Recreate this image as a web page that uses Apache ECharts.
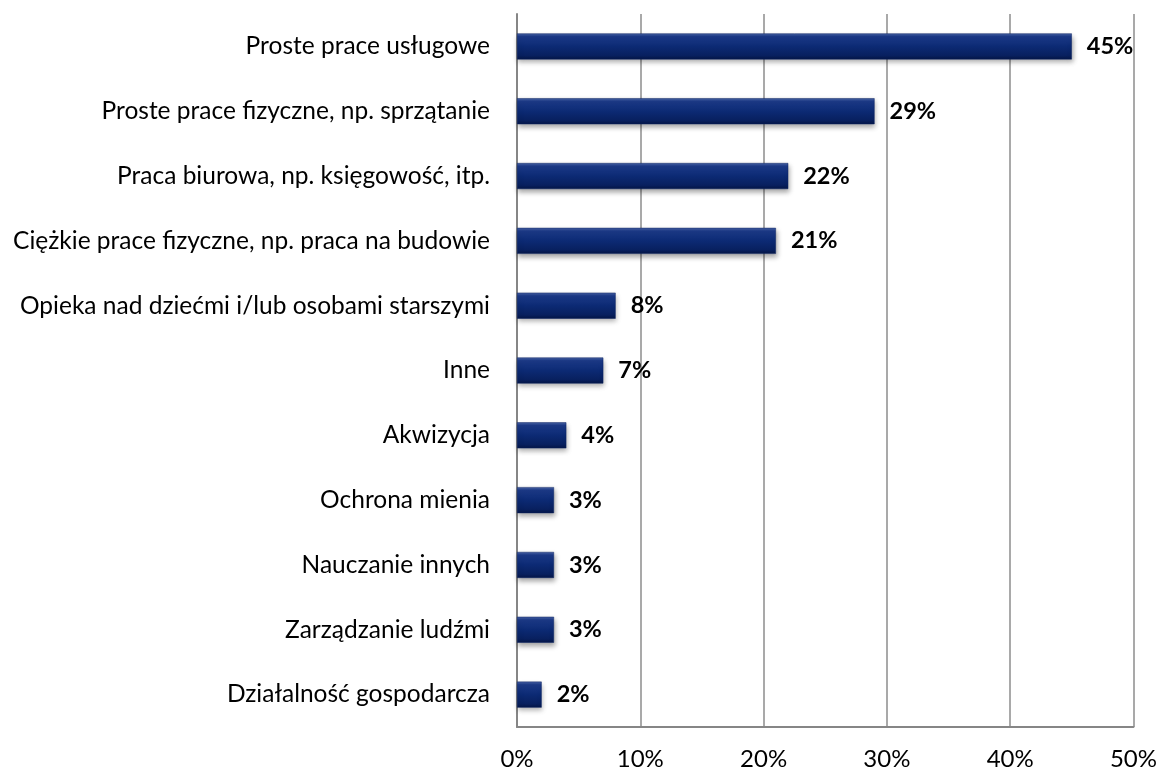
<!DOCTYPE html>
<html>
<head>
<meta charset="utf-8">
<script src="https://cdn.jsdelivr.net/npm/echarts@6/dist/echarts.min.js"></script>
<style>
  html, body { margin: 0; padding: 0; background: #fff; }
  #chart { width: 1160px; height: 771px; }
</style>
</head>
<body>
<div id="chart"></div>
<script>
// Categories listed bottom-to-top (ECharts category y axis starts at the bottom)
const categories = [
  'Działalność gospodarcza',
  'Zarządzanie ludźmi',
  'Nauczanie innych',
  'Ochrona mienia',
  'Akwizycja',
  'Inne',
  'Opieka nad dziećmi i/lub osobami starszymi',
  'Ciężkie prace fizyczne, np. praca na budowie',
  'Praca biurowa, np. księgowość, itp.',
  'Proste prace fizyczne, np. sprzątanie',
  'Proste prace usługowe'
];
const values = [2, 3, 3, 3, 4, 7, 8, 21, 22, 29, 45];
const xTicks = [0, 10, 20, 30, 40, 50];

const FONT = 'Lato, "Open Sans", sans-serif';

const chart = echarts.init(document.getElementById('chart'));
chart.setOption({
  animation: false,
  backgroundColor: '#ffffff',
  grid: { left: 517, right: 26, top: 14, bottom: 43, containLabel: false },
  xAxis: {
    type: 'value',
    min: xTicks[0],
    max: xTicks[xTicks.length - 1],
    interval: 10,
    axisLine: { show: true, lineStyle: { color: '#868686', width: 2 } },
    axisTick: { show: false },
    splitLine: { show: true, lineStyle: { color: '#8c8c8c', width: 1.5 } },
    axisLabel: {
      color: '#000', fontFamily: FONT, fontSize: 24, margin: 20,
      formatter: v => v + '%'
    }
  },
  yAxis: {
    type: 'category',
    data: categories,
    axisLine: { show: true, lineStyle: { color: '#868686', width: 2 } },
    axisTick: { show: false },
    axisLabel: { color: '#000', fontFamily: FONT, fontSize: 24.5, margin: 27 }
  },
  series: [{
    type: 'bar',
    data: values,
    barWidth: 26,
    itemStyle: {
      color: new echarts.graphic.LinearGradient(0, 0, 0, 1, [
        { offset: 0, color: '#4a64a6' },
        { offset: 0.12, color: '#1c3a88' },
        { offset: 0.5, color: '#0c2a74' },
        { offset: 0.85, color: '#08205f' },
        { offset: 1, color: '#051646' }
      ]),
      borderColor: '#0a2263',
      borderWidth: 0.5,
      shadowColor: 'rgba(0,0,0,0.35)',
      shadowBlur: 5,
      shadowOffsetX: 1,
      shadowOffsetY: 3
    },
    label: {
      show: true,
      position: 'right',
      distance: 15,
      color: '#000',
      fontFamily: FONT,
      fontSize: 23.5,
      fontWeight: 'bold',
      formatter: p => p.value + '%'
    }
  }]
});
</script>
</body>
</html>
